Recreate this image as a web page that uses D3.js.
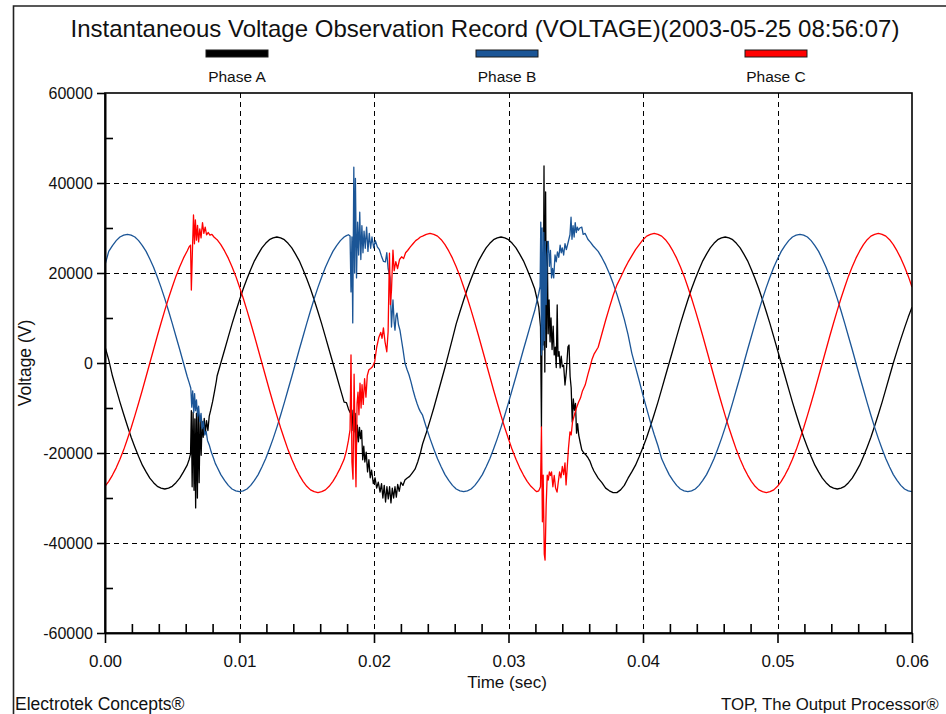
<!DOCTYPE html>
<html>
<head>
<meta charset="utf-8">
<script src="https://cdn.jsdelivr.net/npm/d3@7/dist/d3.min.js"></script>
<style>
  body { margin: 0; background: #fff; }
  svg { display: block; font-family: "Liberation Sans", Arial, sans-serif; }
</style>
</head>
<body>
<div id="chart"></div>
<script>
// recorder sample clock (samples per second) for the steady-state readings
var SAMPLE_RATE = 3600;

var chartTitle = "Instantaneous Voltage Observation Record (VOLTAGE)(2003-05-25 08:56:07)";
var seriesNames = ["Phase A", "Phase B", "Phase C"];
var xLabel = "Time (sec)";
var yLabel = "Voltage (V)";
var footerLeft = "Electrotek Concepts\u00ae";
var footerRight = "TOP, The Output Processor\u00ae";

var xTicks = [0, 0.01, 0.02, 0.03, 0.04, 0.05, 0.06];
var xMinorTicks = [0.002, 0.004, 0.006, 0.008, 0.012, 0.014, 0.016, 0.018, 0.022, 0.024, 0.026, 0.028,
  0.032, 0.034, 0.036, 0.038, 0.042, 0.044, 0.046, 0.048, 0.052, 0.054, 0.056, 0.058];
var yTicks = [-60000, -40000, -20000, 0, 20000, 40000, 60000];
var yMinorTicks = [-50000, -30000, -10000, 10000, 30000, 50000];

// steady-state samples (V), one every 1/3600 s
var phaseA = [
  3600, 700, -2900, -5800, -8700, -11400, -14000, -16500, -18700, -20800,
  -22700, -24200, -25600, -26600, -27400, -27800, -28000, -27800, -27400, -26600,
  -25600, -24200, -22700, -20800, -18700, -16500, -14000, -11400, -8700, -5800,
  -2900, 0, 2900, 5800, 8700, 11400, 14000, 16500, 18700, 20800,
  22700, 24200, 25600, 26600, 27400, 27800, 28000, 27800, 27400, 26600,
  25600, 24200, 22700, 20800, 18700, 16500, 14000, 11400, 8700, 5800,
  2900, 0, -2900, -5800, -8700, -11400, -14000, -16500, -18700, -20800,
  -22700, -24200, -25600, -26600, -27400, -27800, -28000, -27800, -27400, -26600,
  -25600, -24200, -22700, -20800, -18700, -18000, -15500, -12800, -10000, -7000,
  -4000, -1000, 2200, 5400, 8700, 11400, 14000, 16500, 18700, 20800,
  22700, 24200, 25600, 26600, 27400, 27800, 28000, 27800, 27400, 26600,
  25600, 24200, 22700, 20800, 18700, 16500, 14000, 11400, 8700, 5800,
  2900, 0, -2900, -5800, -8700, -11400, -14000, -16500, -18700, -20800,
  -22700, -24200, -25600, -26600, -27800, -28400, -28800, -28800, -28200, -27200,
  -25600, -24200, -22700, -20800, -18700, -16500, -14000, -11400, -8700, -5800,
  -2900, 0, 2900, 5800, 8700, 11400, 14000, 16500, 18700, 20800,
  22700, 24200, 25600, 26600, 27400, 27800, 28000, 27800, 27400, 26600,
  25600, 24200, 22700, 20800, 18700, 16500, 14000, 11400, 8700, 5800,
  2900, 0, -2900, -5800, -8700, -11400, -14000, -16500, -18700, -20800,
  -22700, -24200, -25600, -26600, -27400, -27800, -28000, -27800, -27400, -26600,
  -25600, -24200, -22700, -20800, -18700, -16500, -14000, -11400, -8700, -5800,
  -2900, 0, 2700, 5300, 7800, 10200, 12400
];

var phaseB = [
  21800, 24800, 26100, 27200, 28000, 28400, 28600, 28400, 28000, 27200,
  26100, 24800, 23100, 21300, 19100, 16800, 14300, 11600, 8800, 5900,
  3000, 0, -3000, -5900, -8800, -11600, -14300, -16800, -19100, -21300,
  -23100, -24800, -26100, -27200, -28000, -28400, -28600, -28400, -28000, -27200,
  -26100, -24800, -23100, -21300, -19100, -16800, -14300, -11600, -8800, -5900,
  -3000, 0, 3000, 5900, 8800, 11600, 14300, 16800, 19100, 21300,
  23100, 24800, 26100, 27200, 28000, 28400, 28600, 28400, 28000, 27200,
  26100, 24800, 23100, 21300, 19100, 16800, 14300, 11600, 8800, 5900,
  3000, 0, -3000, -5900, -8800, -11600, -14300, -16800, -19100, -21300,
  -23100, -24800, -26100, -27200, -28000, -28400, -28600, -28400, -28000, -27200,
  -26100, -24800, -23100, -21300, -19100, -16800, -14300, -11600, -8800, -5900,
  -3000, 0, 3000, 5900, 8800, 11600, 14300, 16800, 19100, 21300,
  23100, 24800, 26100, 27200, 28000, 28400, 28600, 28400, 28000, 27200,
  26100, 24800, 24800, 23400, 21800, 19900, 17700, 15300, 12600, 9700,
  6300, 2200, -900, -4000, -7200, -10200, -13200, -15900, -18400, -21300,
  -23100, -24800, -26100, -27200, -28000, -28400, -28600, -28400, -28000, -27200,
  -26100, -24800, -23100, -21300, -19100, -16800, -14300, -11600, -8800, -5900,
  -3000, 0, 3000, 5900, 8800, 11600, 14300, 16800, 19100, 21300,
  23100, 24800, 26100, 27200, 28000, 28400, 28600, 28400, 28000, 27200,
  26100, 24800, 23100, 21300, 19100, 16800, 14300, 11600, 8800, 5900,
  3000, 0, -3000, -5900, -8800, -11600, -14300, -16800, -19100, -21300,
  -23100, -24800, -26100, -27200, -28000, -28400, -28600
];

var phaseC = [
  -27400, -26300, -24900, -23300, -21400, -19300, -16900, -14400, -11700, -8900,
  -6000, -3000, 0, 3000, 6000, 8900, 11700, 14400, 16900, 19300,
  21400, 23300, 24900, 26300, 27400, 28200, 28600, 28800, 28600, 28200,
  27400, 26300, 24900, 23300, 21400, 19300, 16900, 14400, 11700, 8900,
  6000, 3000, 0, -3000, -6000, -8900, -11700, -14400, -16900, -19300,
  -21400, -23300, -24900, -26300, -27400, -28200, -28600, -28800, -28600, -28200,
  -27400, -26300, -24900, -23300, -21400, -19300, -16900, -14400, -11700, -8900,
  -6000, -3000, 0, 3000, 6000, 8900, 11700, 14400, 16900, 19300,
  21400, 23300, 24900, 26300, 27400, 28200, 28600, 28800, 28600, 28200,
  27400, 26300, 24900, 23300, 21400, 19300, 16900, 14400, 11700, 8900,
  6000, 3000, 0, -3000, -6000, -8900, -11700, -14400, -16900, -19300,
  -21400, -23300, -24900, -26300, -27400, -28200, -28600, -28800, -28600, -28200,
  -27400, -26300, -24900, -23300, -21400, -19300, -16900, -14400, -11700, -8900,
  -6000, -3000, 3500, 6500, 9500, 12300, 15000, 17300, 19000, 20800,
  22400, 23800, 25200, 26300, 27400, 28200, 28600, 28800, 28600, 28200,
  27400, 26300, 24900, 23300, 21400, 19300, 16900, 14400, 11700, 8900,
  6000, 3000, 0, -3000, -6000, -8900, -11700, -14400, -16900, -19300,
  -21400, -23300, -24900, -26300, -27400, -28200, -28600, -28800, -28600, -28200,
  -27400, -26300, -24900, -23300, -21400, -19300, -16900, -14400, -11700, -8900,
  -6000, -3000, 0, 3000, 6000, 8900, 11700, 14400, 16900, 19300,
  21400, 23300, 24900, 26300, 27400, 28200, 28600, 28800, 28600, 28200,
  27400, 26300, 24900, 23300, 21400, 19300, 16900
];

// disturbance windows (ms): inside them the dense readings below are used
var faultWindows = [[6.2, 8.3], [18.0, 23.5], [32.0, 36.4]];

// dense readings during the disturbances, [ms, V]
var phaseAFaults = [
  [6.25, -21500], [6.36, -20200], [6.42, -10600], [6.48, -27500], [6.55, -10900], [6.62, -28300],
  [6.68, -12400], [6.74, -32200], [6.80, -11200], [6.87, -30000], [6.93, -9900], [7.00, -26600],
  [7.07, -12500], [7.15, -20500], [7.22, -13000], [7.30, -16500], [7.38, -12300], [7.46, -15600],
  [7.55, -12800], [7.65, -15000], [7.75, -11800], [7.85, -10600], [8.00, -8600], [8.15, -6200], [8.28, -4000],

  [17.95, -8800], [18.10, -10200], [18.22, -11000], [18.29, -10200], [18.36, -15000], [18.44, -10500],
  [18.52, -15300], [18.60, -11200], [18.68, -18900], [18.76, -13800], [18.84, -17500], [18.92, -14300],
  [19.00, -16800], [19.08, -15000], [19.16, -21500], [19.24, -18500], [19.32, -22000], [19.42, -19800],
  [19.52, -24200], [19.62, -21500], [19.72, -25500], [19.82, -23800], [19.95, -26800], [20.08, -25500],
  [20.20, -27800], [20.32, -26500], [20.45, -28700], [20.56, -26800], [20.66, -30000], [20.76, -27200],
  [20.86, -30900], [20.96, -27500], [21.06, -30200], [21.16, -27500], [21.26, -31100], [21.36, -27800],
  [21.46, -30000], [21.56, -27500], [21.66, -29800], [21.76, -27000], [21.88, -28500], [22.00, -26500],
  [22.15, -27200], [22.30, -26000], [22.45, -25600], [22.65, -25200], [22.85, -24400], [23.05, -23600],
  [23.25, -22000], [23.45, -20000],

  [32.10, 14500], [32.25, 12400], [32.38, 8000], [32.45, -14200], [32.52, 21000], [32.58, 4000],
  [32.64, 43800], [32.70, -2000], [32.76, 38000], [32.82, 3500], [32.88, 27000], [32.95, 6500],
  [33.02, 14000], [33.09, 4700], [33.16, 10000], [33.24, 3000], [33.32, 8200], [33.40, 1800],
  [33.48, 3500], [33.55, -1000], [33.62, 12900], [33.68, 1500], [33.76, 2500], [33.84, -1100],
  [33.92, 1500], [34.00, -800], [34.10, -500], [34.20, -4900], [34.30, -2000], [34.42, 3600],
  [34.50, 4000], [34.58, -3000], [34.66, -5500], [34.74, -13100], [34.82, -8000], [34.90, -10500],
  [34.98, -9000], [35.06, -15600], [35.14, -13500], [35.22, -16000], [35.32, -17500], [35.45, -19300],
  [35.60, -20000], [35.75, -20400], [35.90, -21000], [36.05, -21800], [36.20, -23000], [36.35, -24000]
];

var phaseBFaults = [
  [6.25, -4300], [6.38, -5600], [6.45, -9800], [6.52, -6200], [6.60, -11000], [6.66, -6800],
  [6.73, -10600], [6.80, -8200], [6.88, -11800], [6.96, -9600], [7.05, -13000], [7.14, -11200],
  [7.22, -14600], [7.32, -13000], [7.42, -16000], [7.52, -15200], [7.62, -17200], [7.75, -18200],
  [7.90, -19800], [8.05, -21000], [8.20, -22300],

  [17.95, 28300], [18.10, 28500], [18.22, 28200], [18.29, 15800], [18.36, 28000], [18.42, 8900],
  [18.50, 43500], [18.56, 20000], [18.62, 41000], [18.70, 18900], [18.78, 31300], [18.86, 24000],
  [18.94, 33500], [19.02, 23000], [19.10, 30500], [19.18, 24500], [19.26, 29300], [19.35, 25500],
  [19.45, 30200], [19.55, 24800], [19.65, 28800], [19.75, 25500], [19.85, 28000], [19.98, 25600],
  [20.10, 27200], [20.25, 25800], [20.40, 25200], [20.55, 23800], [20.70, 22600], [20.85, 22500],
  [20.95, 24500], [21.05, 21000], [21.19, 19000], [21.30, 8000], [21.41, 14000], [21.50, 9000],
  [21.56, 7300], [21.64, 10500], [21.71, 11100], [21.82, 8500], [21.93, 7300], [22.05, 5000],
  [22.16, 2900], [22.30, 0], [22.45, -1400], [22.60, -2600], [22.75, -4200], [22.90, -6000],
  [23.05, -7600], [23.20, -9000], [23.35, -10200], [23.45, -10800],

  [32.10, 13600], [32.25, 15500], [32.35, 17000], [32.40, 31300], [32.45, 1800], [32.50, 30000],
  [32.56, 2900], [32.62, 29000], [32.68, 5000], [32.74, 27000], [32.80, 13000], [32.88, 24000],
  [32.96, 27000], [33.04, 21500], [33.12, 25000], [33.20, 18900], [33.28, 21000], [33.36, 18900],
  [33.46, 24000], [33.55, 22500], [33.64, 24700], [33.74, 23500], [33.84, 26200], [33.92, 24500],
  [34.00, 25600], [34.10, 24000], [34.20, 26500], [34.30, 25200], [34.45, 27000], [34.57, 28500],
  [34.65, 32400], [34.72, 27500], [34.80, 30500], [34.88, 28000], [34.96, 31200], [35.04, 29000],
  [35.12, 30200], [35.20, 29500], [35.30, 30000], [35.45, 30200], [35.55, 28600], [35.70, 28800],
  [35.90, 27500], [36.10, 26800], [36.30, 26000]
];

var phaseCFaults = [
  [6.25, 25800], [6.36, 26200], [6.42, 16200], [6.50, 25000], [6.58, 32900], [6.65, 26500],
  [6.72, 31800], [6.80, 27300], [6.88, 30600], [6.96, 26900], [7.05, 29800], [7.14, 27800],
  [7.25, 31200], [7.35, 28800], [7.45, 30200], [7.55, 28500], [7.68, 29000], [7.80, 28400],
  [7.95, 28600], [8.10, 28000], [8.25, 27600],

  [17.95, -19500], [18.10, -17200], [18.22, -14800], [18.29, 1800], [18.36, -22000], [18.44, -25800],
  [18.52, -2500], [18.60, -18000], [18.66, -27500], [18.74, -9000], [18.81, -6500], [18.88, -11500],
  [18.96, -4500], [19.04, -10000], [19.11, -4800], [19.20, -9200], [19.30, -3500], [19.40, -7600],
  [19.50, -2800], [19.62, -1500], [19.75, -1200], [19.90, -800], [20.05, 300], [20.20, 3500],
  [20.35, 5600], [20.50, 6800], [20.60, 5500], [20.70, 7800], [20.82, 4700], [20.95, 2500],
  [21.05, 7000], [21.15, 24400], [21.22, 13000], [21.30, 16200], [21.41, 25100], [21.50, 20500],
  [21.62, 22500], [21.75, 21000], [21.90, 23000], [22.05, 23600], [22.20, 23200], [22.35, 24500],
  [22.50, 25000], [22.70, 25800], [22.90, 26500], [23.10, 27200], [23.30, 27600], [23.45, 28000],

  [32.10, -28600], [32.25, -28400], [32.38, -27500], [32.45, -14200], [32.52, -35300], [32.58, -24900],
  [32.66, -42500], [32.72, -43800], [32.80, -31600], [32.88, -24900], [32.96, -26000], [33.04, -24200],
  [33.12, -25000], [33.20, -24200], [33.30, -27500], [33.40, -25000], [33.50, -27800], [33.61, -28700],
  [33.70, -26500], [33.80, -24200], [33.90, -25500], [34.00, -23000], [34.10, -24800], [34.20, -22200],
  [34.28, -27100], [34.36, -23500], [34.46, -18900], [34.57, -15300], [34.66, -16000], [34.76, -13100],
  [34.90, -11500], [35.05, -10000], [35.20, -8800], [35.35, -7800], [35.50, -6200], [35.70, -4900],
  [35.90, -2600], [36.06, -900], [36.20, 700], [36.35, 1900]
];

var style = {
  colors: ["#000000", "#1b5596", "#ff0000"],
  text: "#111111"
};

var width = 946, height = 714;
var margin = {top: 93, right: 34, bottom: 81, left: 105};

var inFault = function(ms) {
  return faultWindows.some(function(w) { return ms >= w[0] && ms <= w[1]; });
};

// merge the steady samples with the dense fault readings
var buildPoints = function(samples, faults) {
  var pts = [];
  samples.forEach(function(v, i) {
    var ms = i * 1000 / SAMPLE_RATE;
    if (!inFault(ms)) pts.push({t: ms / 1000, v: v});
  });
  faults.forEach(function(d) { pts.push({t: d[0] / 1000, v: d[1]}); });
  pts.sort(function(a, b) { return a.t - b.t; });
  return pts;
};

var series = [
  buildPoints(phaseA, phaseAFaults),
  buildPoints(phaseB, phaseBFaults),
  buildPoints(phaseC, phaseCFaults)
];

var svg = d3.select("#chart").append("svg")
  .attr("width", width)
  .attr("height", height);

svg.append("rect").attr("width", width).attr("height", height).attr("fill", "#fff");

// outer frame (top and left edges only)
svg.append("path")
  .attr("d", "M13.5," + height + "V6H" + width)
  .attr("fill", "none")
  .attr("stroke", "#222")
  .attr("stroke-width", 1.6);

// scales
var x = d3.scaleLinear().domain([0, 0.06]).range([margin.left, width - margin.right]);
var y = d3.scaleLinear().domain([-60000, 60000]).range([height - margin.bottom, margin.top]);

// title
svg.append("text")
  .attr("x", 485)
  .attr("y", 37)
  .attr("text-anchor", "middle")
  .attr("font-size", "24px")
  .attr("fill", style.text)
  .text(chartTitle);

// legend
var legendX = [237, 507, 776];
var legend = svg.append("g").selectAll("g")
  .data(seriesNames)
  .enter().append("g")
  .attr("transform", function(d, i) { return "translate(" + legendX[i] + ",0)"; });

legend.append("rect")
  .attr("x", -31).attr("y", 50)
  .attr("width", 62).attr("height", 7)
  .attr("fill", function(d, i) { return style.colors[i]; })
  .attr("stroke", "#1a1a1a")
  .attr("stroke-width", 1);

legend.append("text")
  .attr("y", 82)
  .attr("text-anchor", "middle")
  .attr("font-size", "15.5px")
  .attr("fill", style.text)
  .text(function(d) { return d; });

// dashed grid
var grid = svg.append("g")
  .attr("stroke", "#000")
  .attr("stroke-width", 1)
  .attr("stroke-dasharray", "5,4");

grid.selectAll("line.gy")
  .data(yTicks.slice(1, -1))
  .enter().append("line")
  .attr("class", "gy")
  .attr("x1", x(0)).attr("x2", x(0.06))
  .attr("y1", function(d) { return y(d) + 0.5; })
  .attr("y2", function(d) { return y(d) + 0.5; });

grid.selectAll("line.gx")
  .data(xTicks.slice(1, -1))
  .enter().append("line")
  .attr("class", "gx")
  .attr("y1", y(60000)).attr("y2", y(-60000))
  .attr("x1", function(d) { return Math.round(x(d)) + 0.5; })
  .attr("x2", function(d) { return Math.round(x(d)) + 0.5; });

// waveforms
var line = d3.line()
  .x(function(d) { return x(d.t); })
  .y(function(d) { return y(d.v); });

var plot = svg.append("g");
plot.append("clipPath").attr("id", "clip")
  .append("rect")
  .attr("x", x(0)).attr("y", y(60000))
  .attr("width", x(0.06) - x(0)).attr("height", y(-60000) - y(60000));

plot.selectAll("path")
  .data(series)
  .enter().append("path")
  .attr("clip-path", "url(#clip)")
  .attr("d", line)
  .attr("fill", "none")
  .attr("stroke", function(d, i) { return style.colors[i]; })
  .attr("stroke-width", 1.3)
  .attr("stroke-linejoin", "round");

// plot frame
svg.append("rect")
  .attr("x", x(0)).attr("y", y(60000))
  .attr("width", x(0.06) - x(0)).attr("height", y(-60000) - y(60000))
  .attr("fill", "none")
  .attr("stroke", "#000")
  .attr("stroke-width", 1.6);

var fmt = function(d) { return String(d); };

// y axis
var yAxis = d3.axisLeft(y)
  .tickValues(yTicks)
  .tickSize(8)
  .tickSizeOuter(0)
  .tickPadding(4)
  .tickFormat(fmt);

var yMinor = d3.axisRight(y)
  .tickValues(yMinorTicks)
  .tickSize(8)
  .tickSizeOuter(0)
  .tickFormat("");

// x axis
var xAxis = d3.axisBottom(x)
  .tickValues(xTicks)
  .tickSize(10)
  .tickSizeOuter(0)
  .tickPadding(12)
  .tickFormat(d3.format(".2f"));

var xMinor = d3.axisTop(x)
  .tickValues(xMinorTicks)
  .tickSize(9)
  .tickSizeOuter(0)
  .tickFormat("");

var gy = svg.append("g").attr("transform", "translate(" + x(0) + ",0)").call(yAxis);
var gyMinor = svg.append("g").attr("transform", "translate(" + x(0) + ",0)").call(yMinor);
var gx = svg.append("g").attr("transform", "translate(0," + y(-60000) + ")").call(xAxis);
var gxMinor = svg.append("g").attr("transform", "translate(0," + y(-60000) + ")").call(xMinor);

[gy, gyMinor, gx, gxMinor].forEach(function(g) {
  g.select(".domain").attr("stroke", "#000").attr("stroke-width", 1.6);
  g.selectAll(".tick line").attr("stroke", "#000").attr("stroke-width", 1.6);
  g.selectAll(".tick text")
    .attr("fill", style.text)
    .attr("font-family", "'Liberation Sans', Arial, sans-serif");
});
gy.selectAll(".tick text").attr("font-size", "16px");
gx.selectAll(".tick text").attr("font-size", "17px");

// axis titles
svg.append("text")
  .attr("x", 507)
  .attr("y", 688)
  .attr("text-anchor", "middle")
  .attr("font-size", "17px")
  .attr("fill", style.text)
  .text(xLabel);

svg.append("text")
  .attr("transform", "translate(31,363) rotate(-90)")
  .attr("text-anchor", "middle")
  .attr("font-size", "17.5px")
  .attr("fill", style.text)
  .text(yLabel);

// footer
svg.append("text")
  .attr("x", 15)
  .attr("y", 710)
  .attr("font-size", "17.5px")
  .attr("fill", style.text)
  .text(footerLeft);

svg.append("text")
  .attr("x", 721)
  .attr("y", 710)
  .attr("font-size", "16.8px")
  .attr("fill", style.text)
  .text(footerRight);
</script>
</body>
</html>
